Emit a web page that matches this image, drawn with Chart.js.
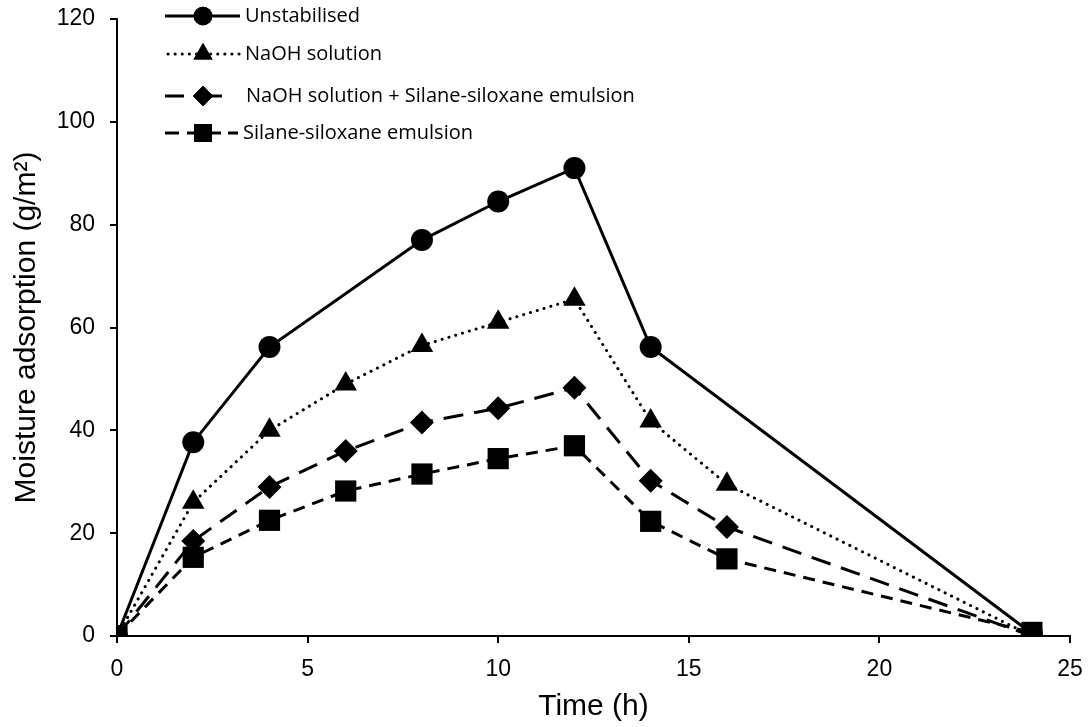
<!DOCTYPE html>
<html><head><meta charset="utf-8">
<script src="https://cdn.jsdelivr.net/npm/chart.js@4.4.1/dist/chart.umd.min.js"></script>
<style>html,body{margin:0;padding:0;background:#fff}#wrap{width:1092px;height:727px}</style>
</head><body><div id="wrap"><canvas id="c" width="1092" height="727"></canvas></div>
<script>
const seriesNames = ["Unstabilised","NaOH solution","NaOH solution + Silane-siloxane emulsion","Silane-siloxane emulsion"];
const unstabX = [0,2,4,8,10,12,14,24];
const unstabY = [0,37.7,56.2,77,84.5,91,56.2,0.5];
const naohX = [0,2,4,6,8,10,12,14,16,24];
const naohY = [0,26,40,49,56.5,61,65.5,41.8,29.5,0];
const naohSilX = [0,2,4,6,8,10,12,14,16,24];
const naohSilY = [0,18.5,29,36,41.5,44.3,48.3,30.2,21.2,0];
const silX = [0,2,4,6,8,10,12,14,16,24];
const silY = [0,15.3,22.5,28.2,31.5,34.5,37,22.3,15,0.7];
const xTicks = [0,5,10,15,20,25];
const yTicks = [0,20,40,60,80,100,120];

const pts = (xs,ys)=>xs.map((x,i)=>({x:x,y:ys[i]}));
const styles = [
  {dash:[], style:'circle', r:11, cap:'butt'},
  {dash:[0.1,7], style:'triangle', r:13, cap:'round'},
  {dash:[20,11], style:'rectRot', r:12, cap:'butt'},
  {dash:[12,8], style:'rect', r:15, cap:'butt'}
];
const datas = [pts(unstabX,unstabY),pts(naohX,naohY),pts(naohSilX,naohSilY),pts(silX,silY)];
const datasets = datas.map((d,i)=>({
  label: seriesNames[i], data: d, showLine:true, borderColor:'#000', backgroundColor:'#000',
  borderWidth:3, borderDash:styles[i].dash, borderCapStyle:styles[i].cap,
  pointStyle:styles[i].style, pointRadius:styles[i].r, pointBorderWidth:0, pointBackgroundColor:'#000', tension:0
}));
datasets.reverse();

const legendPlugin = {
  id:'customLegend',
  afterDraw(chart){
    const ctx = chart.ctx;
    const rows = [16,54,96,133];
    ctx.save();
    seriesNames.forEach((name,i)=>{
      const y = rows[i], s = styles[i];
      ctx.strokeStyle='#000'; ctx.lineWidth=3; ctx.lineCap=s.cap;
      ctx.setLineDash(s.dash);
      ctx.beginPath();
      if(i===2){ ctx.setLineDash([]); ctx.moveTo(165,y); ctx.lineTo(184,y); ctx.moveTo(196,y); ctx.lineTo(222,y); }
      else if(i===3){ ctx.setLineDash([]); ctx.moveTo(165,y); ctx.lineTo(179,y); ctx.moveTo(187,y); ctx.lineTo(221,y); ctx.moveTo(228,y); ctx.lineTo(238,y); }
      else if(i===1){ ctx.moveTo(168,y); ctx.lineTo(240,y); }
      else { ctx.moveTo(165,y); ctx.lineTo(240,y); }
      ctx.stroke();
      ctx.setLineDash([]);
      ctx.beginPath();
      Chart.helpers.drawPoint(ctx,{pointStyle:s.style,radius:s.r*0.85,borderWidth:0,rotation:0},203,y);
      ctx.fillStyle='#000'; ctx.fill();
      ctx.font = '20px "Open Sans"'; ctx.textBaseline='middle'; ctx.textAlign='left';
      ctx.fillText(name, i===2?246:(i===3?243:245), y);
    });
    ctx.restore();
  }
};

new Chart(document.getElementById('c'),{
  type:'scatter',
  data:{datasets:datasets},
  options:{
    responsive:false, animation:false, devicePixelRatio:1,
    layout:{padding:{top:19,right:22,left:0,bottom:0}},
    plugins:{legend:{display:false},tooltip:{enabled:false}},
    scales:{
      x:{type:'linear',min:0,max:25,
        afterBuildTicks(s){s.ticks=xTicks.map(v=>({value:v}));},
        afterFit(s){s.height=91; s.paddingLeft=0; s.paddingRight=0;},
        border:{display:true,color:'#000',width:2},
        grid:{display:true,drawOnChartArea:false,drawTicks:true,tickLength:7,color:'#000',lineWidth:2},
        ticks:{color:'#000',font:{family:'Liberation Sans',size:23},padding:13,maxRotation:0},
        title:{display:true,text:'Time (h)',color:'#000',font:{family:'Liberation Sans',size:30},padding:{top:0,bottom:2}}
      },
      y:{type:'linear',min:0,max:120,
        afterBuildTicks(s){s.ticks=yTicks.map(v=>({value:v}));},
        afterFit(s){s.width=117; s.paddingTop=0; s.paddingBottom=0;},
        border:{display:true,color:'#000',width:2},
        grid:{display:true,drawOnChartArea:false,drawTicks:true,tickLength:7,color:'#000',lineWidth:2},
        ticks:{color:'#000',font:{family:'Liberation Sans',size:23},padding:15},
        title:{display:true,text:'Moisture adsorption (g/m²)',color:'#000',font:{family:'Liberation Sans',size:30},padding:{top:9,bottom:0}}
      }
    }
  },
  plugins:[legendPlugin]
});
</script></body></html>
